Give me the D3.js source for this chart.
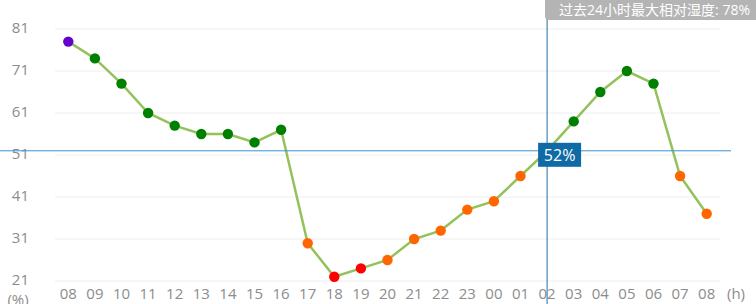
<!DOCTYPE html>
<html>
<head>
<meta charset="utf-8">
<script src="https://cdn.jsdelivr.net/npm/d3@7"></script>
<style>
  body { margin: 0; background: #fff; }
  svg { display: block; font-family: "Open Sans", "Noto Sans CJK SC", sans-serif; }
</style>
</head>
<body>
<div id="chart"></div>
<script>
// hours along the x axis (past 24h)
var hours = ["08", "09", "10", "11", "12", "13", "14", "15", "16", "17", "18", "19", "20",
  "21", "22", "23", "00", "01", "02", "03", "04", "05", "06", "07", "08"];
// relative humidity, %
var humidity = [78, 74, 68, 61, 58, 56, 56, 54, 57, 30, 22, 24, 26,
  31, 33, 38, 40, 46, 52, 59, 66, 71, 68, 46, 37];
var yTicks = [21, 31, 41, 51, 61, 71, 81];
var maxLabel = "过去24小时最大相对湿度: 78%";
var hoverIndex = 18;

var width = 756, height = 304,
  margin = {top: 29, right: 36, bottom: 23, left: 55};

var svg = d3.select("#chart").append("svg")
  .attr("width", width)
  .attr("height", height);

var xScale = d3.scalePoint()
  .domain(d3.range(hours.length))
  .range([margin.left, width - margin.right])
  .padding(0.5);

var yScale = d3.scaleLinear()
  .domain([21, 81])
  .range([height - margin.bottom, margin.top]);

function dotColor(v) {
  if (v >= 78) return "#6600cc";
  if (v > 50) return "#008000";
  if (v > 25) return "#ff6600";
  return "#ff0000";
}

// grid lines
svg.append("g")
  .selectAll("line")
  .data(yTicks)
  .enter().append("line")
    .attr("x1", margin.left)
    .attr("x2", width - margin.right)
    .attr("y1", function (d) { return yScale(d); })
    .attr("y2", function (d) { return yScale(d); })
    .attr("stroke", "#eeeeee")
    .attr("stroke-width", 1);

// y labels
svg.append("g")
  .selectAll("text")
  .data(yTicks)
  .enter().append("text")
    .attr("x", 29)
    .attr("y", function (d) { return yScale(d) + 4; })
    .attr("text-anchor", "end")
    .attr("fill", "#8c8c8c")
    .attr("font-size", 15)
    .text(function (d) { return d; });

svg.append("text")
  .attr("x", 18).attr("y", 305)
  .attr("text-anchor", "middle")
  .attr("fill", "#8c8c8c")
  .attr("font-size", 15)
  .text("(%)");

// x labels
svg.append("g")
  .selectAll("text")
  .data(hours)
  .enter().append("text")
    .attr("x", function (d, i) { return xScale(i); })
    .attr("y", 299)
    .attr("text-anchor", "middle")
    .attr("fill", "#8c8c8c")
    .attr("font-size", 15)
    .text(function (d) { return d; });

svg.append("text")
  .attr("x", 736).attr("y", 299)
  .attr("text-anchor", "middle")
  .attr("fill", "#8c8c8c")
  .attr("font-size", 15)
  .text("(h)");

// line
var line = d3.line()
  .x(function (d, i) { return xScale(i); })
  .y(function (d) { return yScale(d); });

svg.append("path")
  .datum(humidity)
  .attr("d", line)
  .attr("fill", "none")
  .attr("stroke", "#93c25a")
  .attr("stroke-width", 2.5);

svg.append("g")
  .selectAll("circle")
  .data(humidity)
  .enter().append("circle")
    .attr("cx", function (d, i) { return xScale(i); })
    .attr("cy", function (d) { return yScale(d); })
    .attr("r", 5.2)
    .attr("fill", dotColor);

// crosshair at the hovered hour
var hx = xScale(hoverIndex), hy = yScale(humidity[hoverIndex]);
svg.append("line")
  .attr("x1", 0).attr("x2", 731)
  .attr("y1", hy).attr("y2", hy)
  .attr("stroke", "#3d8fd1").attr("stroke-width", 1);
svg.append("line")
  .attr("x1", hx).attr("x2", hx)
  .attr("y1", 0).attr("y2", height)
  .attr("stroke", "#1f6ea6").attr("stroke-width", 1);

var tip = svg.append("g").attr("transform", "translate(" + hx + "," + hy + ")");
tip.append("rect")
  .attr("x", -9).attr("y", -8)
  .attr("width", 43).attr("height", 24)
  .attr("fill", "#0f6aa5");
tip.append("text")
  .attr("x", 12.5).attr("y", 10)
  .attr("text-anchor", "middle")
  .attr("fill", "#fff")
  .attr("font-size", 16)
  .text(humidity[hoverIndex] + "%");

// max label top right
var maxBox = svg.append("g");
maxBox.append("path")
  .attr("d", "M545,0H756V20H549Q545,20 545,16Z")
  .attr("fill", "#b4b4b4");
maxBox.append("text")
  .attr("x", 750).attr("y", 15)
  .attr("text-anchor", "end")
  .attr("fill", "#fff")
  .attr("font-size", 14)
  .text(maxLabel);
</script>
</body>
</html>
